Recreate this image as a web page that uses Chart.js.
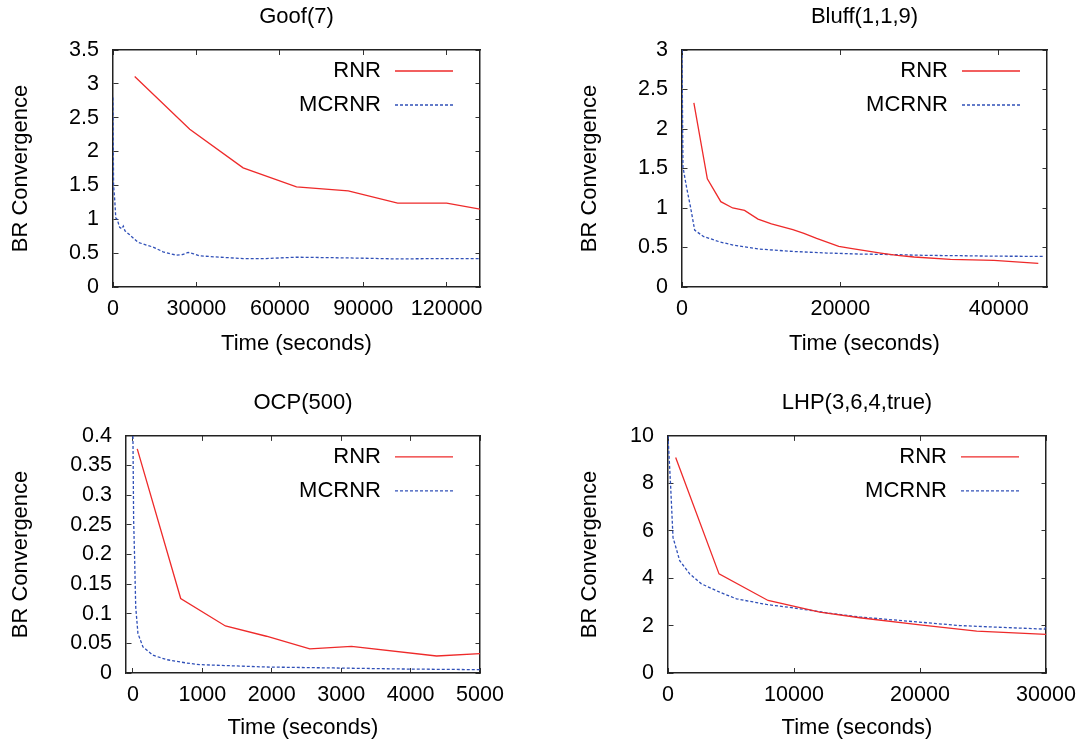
<!DOCTYPE html>
<html>
<head>
<meta charset="utf-8">
<script src="https://cdn.jsdelivr.net/npm/chart.js@4.4.1/dist/chart.umd.min.js"></script>
<style>
  html, body { margin: 0; padding: 0; background: #fff; overflow: hidden; }
  #page { position: relative; width: 1086px; height: 741px; overflow: hidden; }
  canvas { position: absolute; }
</style>
</head>
<body>
<div id="page">
  <canvas id="goof" style="left:8px;top:0px;width:577px;height:357px" width="577" height="357"></canvas>
  <canvas id="bluff" style="left:577px;top:0px;width:575px;height:357px" width="575" height="357"></canvas>
  <canvas id="ocp" style="left:8px;top:380px;width:590px;height:361px" width="590" height="361"></canvas>
  <canvas id="lhp" style="left:577px;top:380px;width:560px;height:361px" width="560" height="361"></canvas>
</div>
<script>
// Goof(7)
const goofRnrX = [7800, 27600, 46800, 66000, 84600, 102400, 120000, 132000];
const goofRnrY = [3.11, 2.33, 1.76, 1.48, 1.42, 1.24, 1.24, 1.15];
const goofMcX = [0, 200, 600, 1000, 1500, 2400, 3200, 3700, 4300, 6000, 9000, 12000, 14400, 18000, 22800, 25000, 27000, 29000, 31200, 38400, 46800, 55000, 66000, 84000, 102000, 120000, 132000];
const goofMcY = [2.8, 1.5, 1.3, 1.02, 1.0, 0.88, 0.86, 0.9, 0.83, 0.77, 0.66, 0.62, 0.59, 0.52, 0.47, 0.48, 0.51, 0.49, 0.46, 0.44, 0.42, 0.42, 0.44, 0.43, 0.415, 0.42, 0.42];
const goofXTicks = [0, 30000, 60000, 90000, 120000];
const goofYTicks = [0, 0.5, 1, 1.5, 2, 2.5, 3, 3.5];

// Bluff(1,1,9)
const bluffRnrX = [1500, 3200, 4900, 6400, 7900, 9600, 11300, 14000, 15400, 17000, 19800, 21300, 25100, 27200, 29300, 33900, 39400, 45000];
const bluffRnrY = [2.33, 1.37, 1.08, 1.0, 0.97, 0.86, 0.8, 0.725, 0.68, 0.615, 0.514, 0.49, 0.43, 0.40, 0.38, 0.35, 0.337, 0.30];
const bluffMcX = [0, 120, 560, 1060, 1600, 2700, 4800, 6500, 9800, 14000, 18300, 22500, 26800, 31000, 35200, 39500, 45600];
const bluffMcY = [3.0, 1.52, 1.27, 1.02, 0.72, 0.64, 0.57, 0.53, 0.48, 0.45, 0.43, 0.417, 0.41, 0.40, 0.396, 0.39, 0.388];
const bluffXTicks = [0, 20000, 40000];
const bluffYTicks = [0, 0.5, 1, 1.5, 2, 2.5, 3];

// OCP(500)
const ocpRnrX = [62, 688, 1332, 1923, 2548, 3149, 4375, 5000];
const ocpRnrY = [0.378, 0.1256, 0.0794, 0.062, 0.0406, 0.045, 0.0287, 0.0327];
const ocpMcX = [0, 10, 25, 40, 72, 144, 289, 482, 770, 962, 1923, 2885, 3846, 5000];
const ocpMcY = [0.40, 0.258, 0.19, 0.1115, 0.0666, 0.044, 0.030, 0.0226, 0.0169, 0.0141, 0.0101, 0.0085, 0.0068, 0.0056];
const ocpXTicks = [0, 1000, 2000, 3000, 4000, 5000];
const ocpYTicks = [0, 0.05, 0.1, 0.15, 0.2, 0.25, 0.3, 0.35, 0.4];

// LHP(3,6,4,true)
const lhpRnrX = [609, 4050, 7943, 12047, 15224, 20000, 24500, 30000];
const lhpRnrY = [9.09, 4.18, 3.06, 2.57, 2.33, 2.03, 1.77, 1.63];
const lhpMcX = [0, 214, 397, 927, 1720, 2650, 4100, 5430, 7810, 9930, 12580, 15220, 17870, 20520, 23170, 25810, 29900, 30000];
const lhpMcY = [10, 7.83, 5.72, 4.74, 4.18, 3.76, 3.41, 3.13, 2.89, 2.75, 2.54, 2.36, 2.24, 2.12, 2.0, 1.94, 1.85, 1.98];
const lhpXTicks = [0, 10000, 20000, 30000];
const lhpYTicks = [0, 2, 4, 6, 8, 10];

const red = '#ee2a2a';
const blue = '#3050b8';
const family = '"Liberation Sans", Arial, Helvetica, sans-serif';
const bigFont = { family: family, size: 22, weight: 'normal' };
const tickFont = { family: family, size: 21.5 };

function toPoints(xs, ys) {
  return xs.map((x, i) => ({ x: x, y: ys[i] }));
}

// legend drawn inside the plot, top right, text before the line sample
const insideLegend = {
  id: 'insideLegend',
  afterDatasetsDraw(chart) {
    const { ctx, chartArea } = chart;
    ctx.save();
    ctx.font = '22px ' + family;
    ctx.textAlign = 'right';
    ctx.textBaseline = 'middle';
    chart.data.datasets.forEach((ds, i) => {
      const y = chartArea.top + 21 + i * 34;
      const x2 = chartArea.right - 27;
      const x1 = x2 - 58;
      ctx.strokeStyle = ds.borderColor;
      ctx.lineWidth = ds.borderWidth;
      ctx.setLineDash(ds.borderDash || []);
      ctx.beginPath();
      ctx.moveTo(x1, y);
      ctx.lineTo(x2, y);
      ctx.stroke();
      ctx.fillStyle = '#000';
      ctx.fillText(ds.label, x1 - 14, y);
    });
    ctx.restore();
  }
};

// short inward tick marks on both sides: dash = [tick, gap, tick]
function tickDash(horizontal) {
  return (c) => {
    const area = c.chart.chartArea;
    if (!area) return [];
    const len = horizontal ? area.width : area.height;
    return [5, Math.max(len - 10, 0), 5, 0];
  };
}

function makeChart(id, o) {
  const frame = { display: true, color: '#222', width: 1.5 };
  new Chart(document.getElementById(id), {
    type: 'line',
    data: {
      datasets: [
        { label: 'RNR', data: toPoints(o.rnrX, o.rnrY), borderColor: red, backgroundColor: red, borderWidth: 1.3 },
        { label: 'MCRNR', data: toPoints(o.mcX, o.mcY), borderColor: blue, backgroundColor: blue, borderWidth: 1.3, borderDash: [3, 2] }
      ]
    },
    options: {
      responsive: false,
      animation: false,
      events: [],
      elements: { point: { radius: 0 }, line: { tension: 0, fill: false } },
      plugins: {
        legend: { display: false },
        tooltip: { enabled: false },
        title: { display: true, text: o.title, color: '#000', font: bigFont, padding: o.titlePad }
      },
      scales: {
        x: {
          type: 'linear', min: o.xMin, max: o.xMax,
          afterBuildTicks: s => { s.ticks = o.xTicks.map(v => ({ value: v })); },
          afterFit: s => { s.height = o.xH; },
          ticks: { color: '#000', font: tickFont, padding: 9, maxRotation: 0, autoSkip: false, callback: v => String(v) },
          grid: { drawTicks: false, color: '#333', lineWidth: 1 },
          border: Object.assign({}, frame, { dash: tickDash(false) }),
          title: { display: true, text: 'Time (seconds)', color: '#000', font: bigFont, padding: 0 }
        },
        y: {
          type: 'linear', min: 0, max: o.yTicks[o.yTicks.length - 1],
          afterBuildTicks: s => { s.ticks = o.yTicks.map(v => ({ value: v })); },
          afterFit: s => { s.width = o.leftW; },
          ticks: { color: '#000', font: tickFont, padding: 14, autoSkip: false, callback: v => String(v) },
          grid: { drawTicks: false, color: '#333', lineWidth: 1 },
          border: Object.assign({}, frame, { dash: tickDash(true) }),
          title: { display: true, text: 'BR Convergence', color: '#000', font: bigFont, padding: 0 }
        },
        x2: {
          type: 'linear', position: 'top', min: o.xMin, max: o.xMax,
          afterFit: s => { s.height = 0; },
          ticks: { display: false },
          grid: { drawOnChartArea: false, drawTicks: false },
          border: frame
        },
        y2: {
          type: 'linear', position: 'right', min: 0, max: o.yTicks[o.yTicks.length - 1],
          afterFit: s => { s.width = o.leftW; },
          ticks: { display: false },
          grid: { drawOnChartArea: false, drawTicks: false },
          border: frame
        }
      }
    },
    plugins: [insideLegend]
  });
}

makeChart('goof', {
  title: 'Goof(7)', rnrX: goofRnrX, rnrY: goofRnrY, mcX: goofMcX, mcY: goofMcY,
  xMin: 0, xMax: 132000, xTicks: goofXTicks, yTicks: goofYTicks,
  leftW: 105, xH: 70, titlePad: { top: 3.5, bottom: 20.1 }
});
makeChart('bluff', {
  title: 'Bluff(1,1,9)', rnrX: bluffRnrX, rnrY: bluffRnrY, mcX: bluffMcX, mcY: bluffMcY,
  xMin: 0, xMax: 46100, xTicks: bluffXTicks, yTicks: bluffYTicks,
  leftW: 105, xH: 70, titlePad: { top: 3.5, bottom: 20.1 }
});
makeChart('ocp', {
  title: 'OCP(500)', rnrX: ocpRnrX, rnrY: ocpRnrY, mcX: ocpMcX, mcY: ocpMcY,
  xMin: -100, xMax: 5000, xTicks: ocpXTicks, yTicks: ocpYTicks,
  leftW: 118, xH: 68, titlePad: { top: 9.5, bottom: 20 }
});
makeChart('lhp', {
  title: 'LHP(3,6,4,true)', rnrX: lhpRnrX, rnrY: lhpRnrY, mcX: lhpMcX, mcY: lhpMcY,
  xMin: 0, xMax: 30000, xTicks: lhpXTicks, yTicks: lhpYTicks,
  leftW: 91, xH: 68, titlePad: { top: 9.5, bottom: 20 }
});
</script>
</body>
</html>
